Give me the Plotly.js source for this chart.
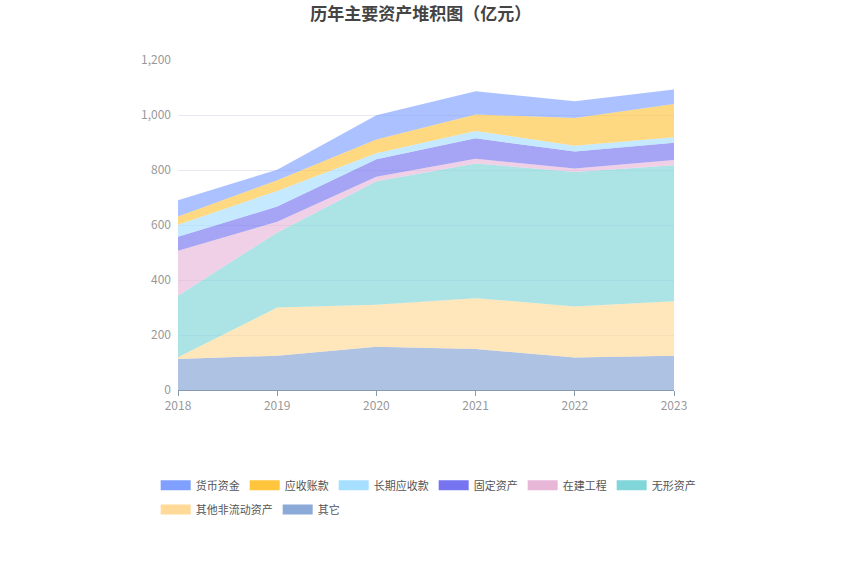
<!DOCTYPE html>
<html>
<head>
<meta charset="utf-8">
<script src="https://cdn.plot.ly/plotly-3.0.1.min.js"></script>
<style>html,body{margin:0;padding:0;background:#fff;}#chart{width:850px;height:574px;}</style>
</head>
<body>
<div id="chart"></div>
<script>
const years = [2018, 2019, 2020, 2021, 2022, 2023];
const qita = [113, 125, 157, 149, 118, 125];
const qitaFeiLiudong = [6, 175, 153, 185, 186, 198];
const wuxing = [224, 273, 449, 490, 489, 494];
const zaijian = [163, 39, 16, 17, 12, 19];
const guding = [51, 55, 64, 74, 62, 63];
const changqiYingshou = [44, 57, 22, 27, 21, 20];
const yingshou = [30, 39, 50, 60, 101, 121];
const huobi = [59, 38, 88, 84, 61, 53];

const series = [
  {name: '其它', y: qita, color: '#8BAAD8', fill: 'rgba(139,170,216,0.7)', lg: 'legend2'},
  {name: '其他非流动资产', y: qitaFeiLiudong, color: '#FFD997', fill: 'rgba(255,217,151,0.65)', lg: 'legend2'},
  {name: '无形资产', y: wuxing, color: '#80D6D8', fill: 'rgba(128,214,216,0.65)', lg: 'legend'},
  {name: '在建工程', y: zaijian, color: '#E8B7D8', fill: 'rgba(232,183,216,0.65)', lg: 'legend'},
  {name: '固定资产', y: guding, color: '#7674F0', fill: 'rgba(118,116,240,0.65)', lg: 'legend'},
  {name: '长期应收款', y: changqiYingshou, color: '#A6DFFF', fill: 'rgba(166,223,255,0.65)', lg: 'legend'},
  {name: '应收账款', y: yingshou, color: '#FFC53D', fill: 'rgba(255,197,61,0.65)', lg: 'legend'},
  {name: '货币资金', y: huobi, color: '#7FA0FF', fill: 'rgba(127,160,255,0.65)', lg: 'legend'}
];

const areaTraces = series.map(s => ({
  type: 'scatter',
  mode: 'lines',
  x: years,
  y: s.y,
  name: s.name,
  stackgroup: 'one',
  line: {width: 0},
  fillcolor: s.fill,
  showlegend: false
}));

// legend-only entries (no data) so the legend swatches show the solid colours
const legendTraces = series.map(s => ({
  type: 'scatter',
  mode: 'lines',
  x: [null],
  y: [null],
  name: s.name,
  line: {width: 14, color: s.color},
  legend: s.lg,
  showlegend: true,
  hoverinfo: 'skip'
}));

const legendBase = {
  orientation: 'h',
  traceorder: 'reversed',
  x: -0.045, xanchor: 'left',
  yanchor: 'top',
  font: {size: 11, color: '#555', family: '"Noto Sans CJK SC", sans-serif'},
  itemwidth: 30,
  bgcolor: 'rgba(0,0,0,0)'
};

const layout = {
  width: 850,
  height: 574,
  paper_bgcolor: '#fff',
  plot_bgcolor: '#fff',
  margin: {l: 178, r: 176, t: 60, b: 184},
  font: {family: '"Noto Sans CJK SC", "Noto Sans", sans-serif', size: 12, color: '#999'},
  title: {
    text: '<b>历年主要资产堆积图（亿元）</b>',
    x: 0.495, xanchor: 'center', y: 0.976, yanchor: 'middle',
    font: {size: 17, color: '#444', family: '"Noto Sans CJK SC", sans-serif'}
  },
  xaxis: {
    range: [2018, 2023],
    tickvals: years,
    ticktext: years.map(String),
    showgrid: false,
    zeroline: false,
    showline: true,
    linecolor: '#8c9ab0',
    linewidth: 1,
    ticks: 'outside',
    ticklen: 5,
    tickcolor: '#8c9ab0',
    tickfont: {size: 12, color: '#999'}
  },
  yaxis: {
    range: [0, 1200],
    tickvals: [0, 200, 400, 600, 800, 1000, 1200],
    ticktext: ['0', '200', '400', '600', '800', '1,000', '1,200'],
    showgrid: true,
    gridcolor: '#e6e9f2',
    zeroline: false,
    showline: false,
    ticks: '',
    ticklabelstandoff: 6,
    tickfont: {size: 12, color: '#999'}
  },
  showlegend: true,
  legend: Object.assign({}, legendBase, {y: -0.245}),
  legend2: Object.assign({}, legendBase, {y: -0.318})
};

Plotly.newPlot('chart', areaTraces.concat(legendTraces), layout, {displayModeBar: false, staticPlot: true});
</script>
</body>
</html>
